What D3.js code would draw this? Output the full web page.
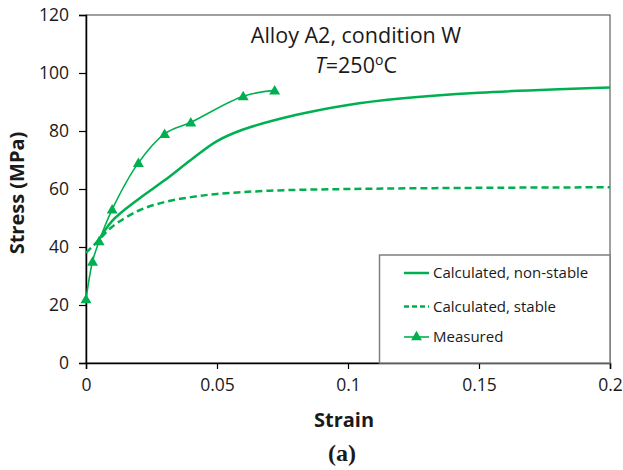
<!DOCTYPE html>
<html>
<head>
<meta charset="utf-8">
<script src="https://cdn.jsdelivr.net/npm/d3@7"></script>
<style>
  body { margin: 0; background: #fff; }
  text { font-family: "Open Sans", Lato, sans-serif; fill: #1a1a1a; }
</style>
</head>
<body>
<svg id="chart" width="623" height="470"></svg>
<script>
// measured points (strain, stress MPa)
const measured = [
  [0, 22], [0.0025, 35], [0.005, 42], [0.01, 53], [0.02, 69],
  [0.03, 79], [0.04, 83], [0.06, 92], [0.072, 94]
];
// calculated curves
const nonStable = [
  [0.004, 41], [0.01, 49], [0.02, 56.5], [0.03, 63], [0.04, 70], [0.05, 76.5],
  [0.06, 80.5], [0.08, 85.5], [0.1, 89], [0.12, 91.2], [0.15, 93.2], [0.2, 95]
];
const stable = [
  [0, 38], [0.005, 42.5], [0.01, 47], [0.02, 52.5], [0.03, 55.5], [0.04, 57.2],
  [0.05, 58.3], [0.07, 59.4], [0.1, 60], [0.15, 60.4], [0.2, 60.6]
];
const xTicks = [0, 0.05, 0.1, 0.15, 0.2];
const yTicks = [0, 20, 40, 60, 80, 100, 120];
const legendItems = ['Calculated, non-stable', 'Calculated, stable', 'Measured'];

const green = '#00b050';
const svg = d3.select('#chart');

// plot area in pixels
const plotL = 86, plotR = 610, plotT = 15, plotB = 363;

const x = d3.scaleLinear().domain([0, 0.2]).range([plotL, plotR]);
const y = d3.scaleLinear().domain([0, 120]).range([plotB, plotT]);

// frame (top and right)
svg.append('rect')
  .attr('x', plotL).attr('y', plotT)
  .attr('width', plotR - plotL).attr('height', plotB - plotT)
  .attr('fill', 'none').attr('stroke', '#404040').attr('stroke-width', 1);

// axes
const xAxis = svg.append('g')
  .attr('transform', `translate(0,${plotB})`)
  .call(d3.axisBottom(x).tickValues(xTicks).tickSize(6).tickPadding(10)
    .tickFormat(d => d === 0 ? '0' : String(d)));
const yAxis = svg.append('g')
  .attr('transform', `translate(${plotL},0)`)
  .call(d3.axisLeft(y).tickValues(yTicks).tickSize(7).tickPadding(10));

[xAxis, yAxis].forEach(a => {
  a.select('.domain').attr('stroke', '#000').attr('stroke-width', 1.5);
  a.selectAll('.tick line').attr('stroke', '#000').attr('stroke-width', 1.2);
  a.selectAll('.tick text').style('font-size', '17.5px').attr('fill', '#1a1a1a');
});

// axis titles
svg.append('text')
  .attr('x', 344).attr('y', 427)
  .attr('text-anchor', 'middle')
  .style('font-size', '20px').style('font-weight', 'bold')
  .text('Strain');
svg.append('text')
  .attr('transform', 'translate(24,193) rotate(-90)')
  .attr('text-anchor', 'middle')
  .style('font-size', '20px').style('font-weight', 'bold')
  .text('Stress (MPa)');
svg.append('text')
  .attr('x', 342).attr('y', 461)
  .attr('text-anchor', 'middle')
  .style('font-family', '"Liberation Serif", "Times New Roman", serif')
  .style('font-size', '24px').style('font-weight', 'bold')
  .text('(a)');

// chart title
svg.append('text')
  .attr('x', 356).attr('y', 43)
  .attr('text-anchor', 'middle')
  .style('font-size', '21.5px')
  .text('Alloy A2, condition W');
const t2 = svg.append('text')
  .attr('x', 356).attr('y', 73)
  .attr('text-anchor', 'middle')
  .style('font-size', '21.5px');
t2.append('tspan').style('font-style', 'italic').text('T');
t2.append('tspan').text('=250');
t2.append('tspan').attr('dy', -8).style('font-size', '14px').text('o');
t2.append('tspan').attr('dy', 8).text('C');

// lines
const smooth = d3.line()
  .x(d => x(d[0])).y(d => y(d[1]))
  .curve(d3.curveCatmullRom.alpha(0.5));

svg.append('path').datum(stable)
  .attr('d', smooth).attr('fill', 'none')
  .attr('stroke', green).attr('stroke-width', 2.5)
  .attr('stroke-dasharray', '7,4');

svg.append('path').datum(nonStable)
  .attr('d', smooth).attr('fill', 'none')
  .attr('stroke', green).attr('stroke-width', 2.5);

svg.append('path').datum(measured)
  .attr('d', smooth).attr('fill', 'none')
  .attr('stroke', green).attr('stroke-width', 1.6);

const tri = d3.symbol().type(d3.symbolTriangle).size(52);
svg.append('g').selectAll('path')
  .data(measured)
  .enter()
  .append('path')
  .attr('d', tri)
  .attr('transform', d => `translate(${x(d[0])},${y(d[1]) + 1})`)
  .attr('fill', green);

// legend
const lg = svg.append('g');
lg.append('rect')
  .attr('x', 379.5).attr('y', 255)
  .attr('width', plotR - 379.5).attr('height', plotB - 255)
  .attr('fill', '#fff').attr('stroke', '#7f7f7f').attr('stroke-width', 1.5);

const rows = [273, 306.5, 337];
legendItems.forEach((name, i) => {
  const ly = rows[i];
  const ln = lg.append('line')
    .attr('x1', 404).attr('x2', 429).attr('y1', ly).attr('y2', ly)
    .attr('stroke', green).attr('stroke-width', i === 2 ? 1.6 : 2.5);
  if (i === 1) ln.attr('stroke-dasharray', '5,3');
  if (i === 2) {
    lg.append('path').attr('d', tri)
      .attr('transform', `translate(416.5,${ly})`).attr('fill', green);
  }
  lg.append('text')
    .attr('x', 433).attr('y', ly).attr('dy', '0.35em')
    .style('font-size', '15px')
    .text(name);
});
</script>
</body>
</html>
